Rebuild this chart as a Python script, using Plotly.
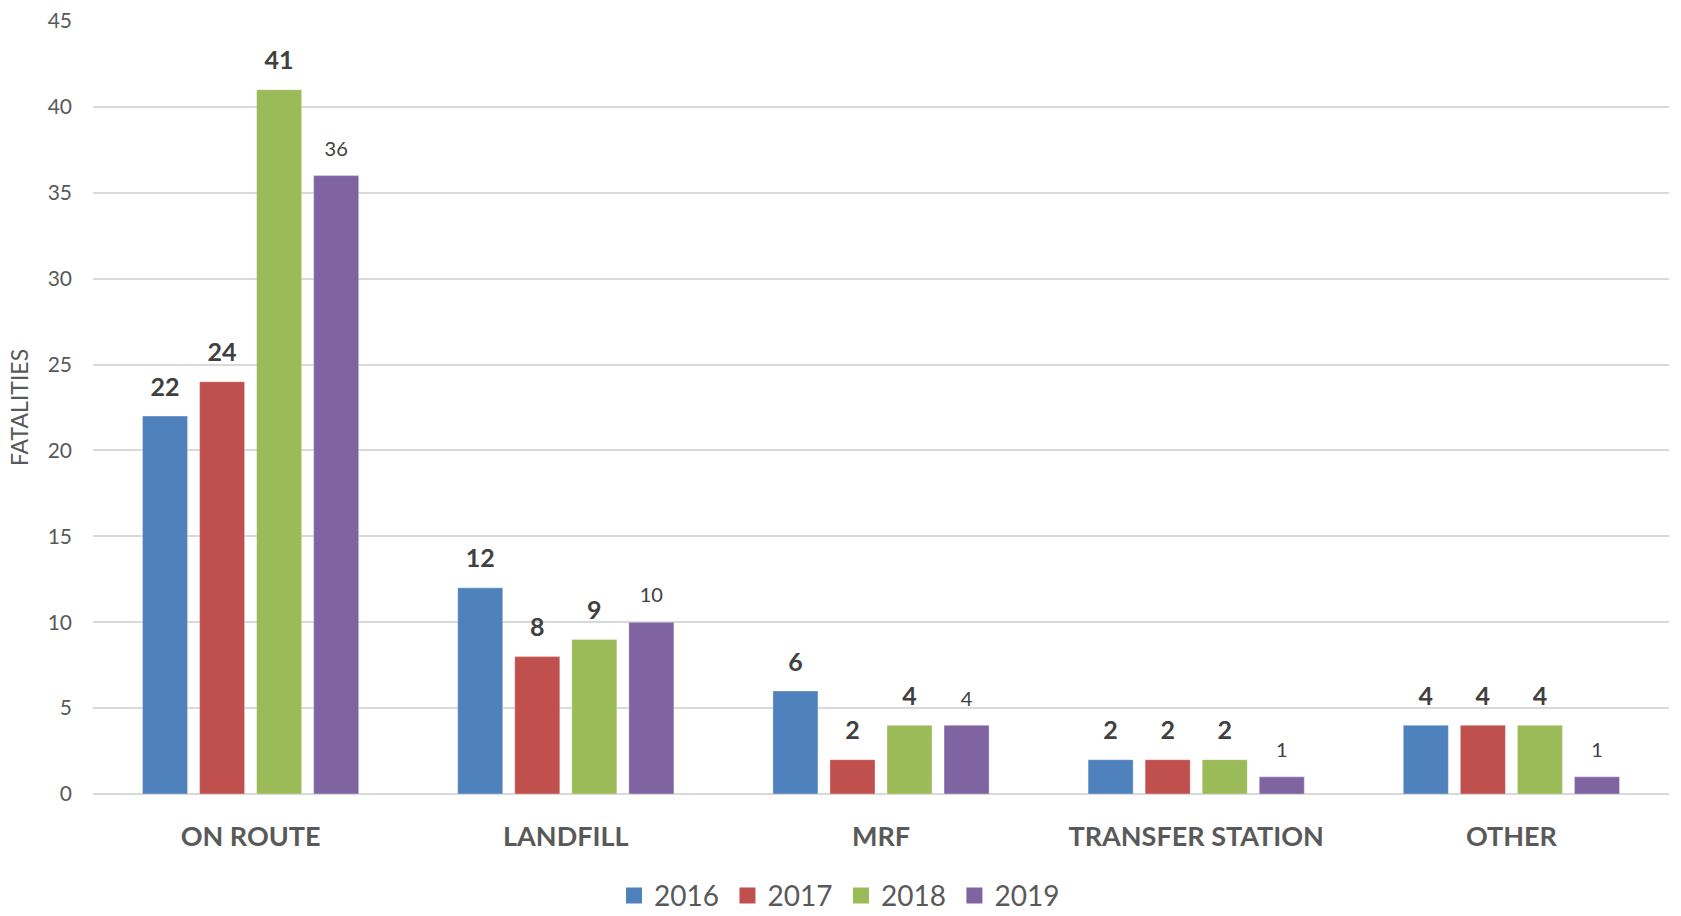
import plotly.graph_objects as go

categories = ["ON ROUTE", "LANDFILL", "MRF", "TRANSFER STATION", "OTHER"]
years = ["2016", "2017", "2018", "2019"]
values_2016 = [22, 12, 6, 2, 4]
values_2017 = [24, 8, 2, 2, 4]
values_2018 = [41, 9, 4, 2, 4]
values_2019 = [36, 10, 4, 1, 1]
series = [values_2016, values_2017, values_2018, values_2019]
colors = ["#4F81BD", "#C0504D", "#9BBB59", "#8064A2"]
y_ticks = [0, 5, 10, 15, 20, 25, 30, 35, 40, 45]

FONT = "Lato"

fig = go.Figure()
for i, (yr, vals, col) in enumerate(zip(years, series, colors)):
    fig.add_trace(go.Bar(
        x=categories, y=vals, name=yr, showlegend=False,
        marker=dict(color=col, line=dict(width=1, color="rgba(255,255,255,0.35)")),
        offsetgroup=yr, alignmentgroup="a",
    ))

# value labels, positioned with grouped scatter so they sit over each bar
for i, (yr, vals) in enumerate(zip(years, series)):
    bold = i < 3
    fig.add_trace(go.Scatter(
        x=categories, y=vals, mode="markers+text", showlegend=False,
        offsetgroup=yr, alignmentgroup="a",
        marker=dict(size=21 if bold else 22, opacity=0),
        text=[("<b>%d</b>" % v) if bold else str(v) for v in vals],
        textposition="top center",
        textfont=dict(family=FONT, size=25 if bold else 20, color="#404040"),
        cliponaxis=False, hoverinfo="skip",
    ))

# legend entries
for yr, col in zip(years, colors):
    fig.add_trace(go.Scatter(
        x=[None], y=[None], mode="markers", name=yr + "\u2009",
        marker=dict(symbol="square", size=18, color=col),
    ))

fig.update_layout(
    width=1681, height=916,
    barmode="group", bargap=0.276, bargroupgap=0.21,
    scattermode="group", scattergap=0.276,
    plot_bgcolor="white", paper_bgcolor="white",
    margin=dict(l=93, r=12, t=21, b=122),
    font=dict(family=FONT, color="#595959"),
    legend=dict(orientation="h", xref="container", yref="container",
                x=0.5003, xanchor="center", y=0.022, yanchor="middle",
                font=dict(size=28, color="#595959", family=FONT), itemwidth=30,
                traceorder="normal"),
    xaxis=dict(showgrid=False, showline=False, ticks="", automargin=False,
               tickfont=dict(size=27, color="#595959", family=FONT),
               tickprefix="<b>", ticksuffix="</b>", ticklabelstandoff=24),
    yaxis=dict(range=[0, 45], tickvals=y_ticks, showgrid=True, gridcolor="#D9D9D9", gridwidth=1.5,
               zeroline=True, zerolinecolor="#D9D9D9", zerolinewidth=1.5, showline=False,
               automargin=False,
               tickfont=dict(size=21, color="#595959", family=FONT), ticklabelstandoff=20,
               title=dict(text="FATALITIES", font=dict(size=23, color="#595959", family=FONT), standoff=12)),
)

fig.write_html("out.html", config={"displayModeBar": False},
               post_script="document.body.style.margin='0';document.body.style.padding='0';")
